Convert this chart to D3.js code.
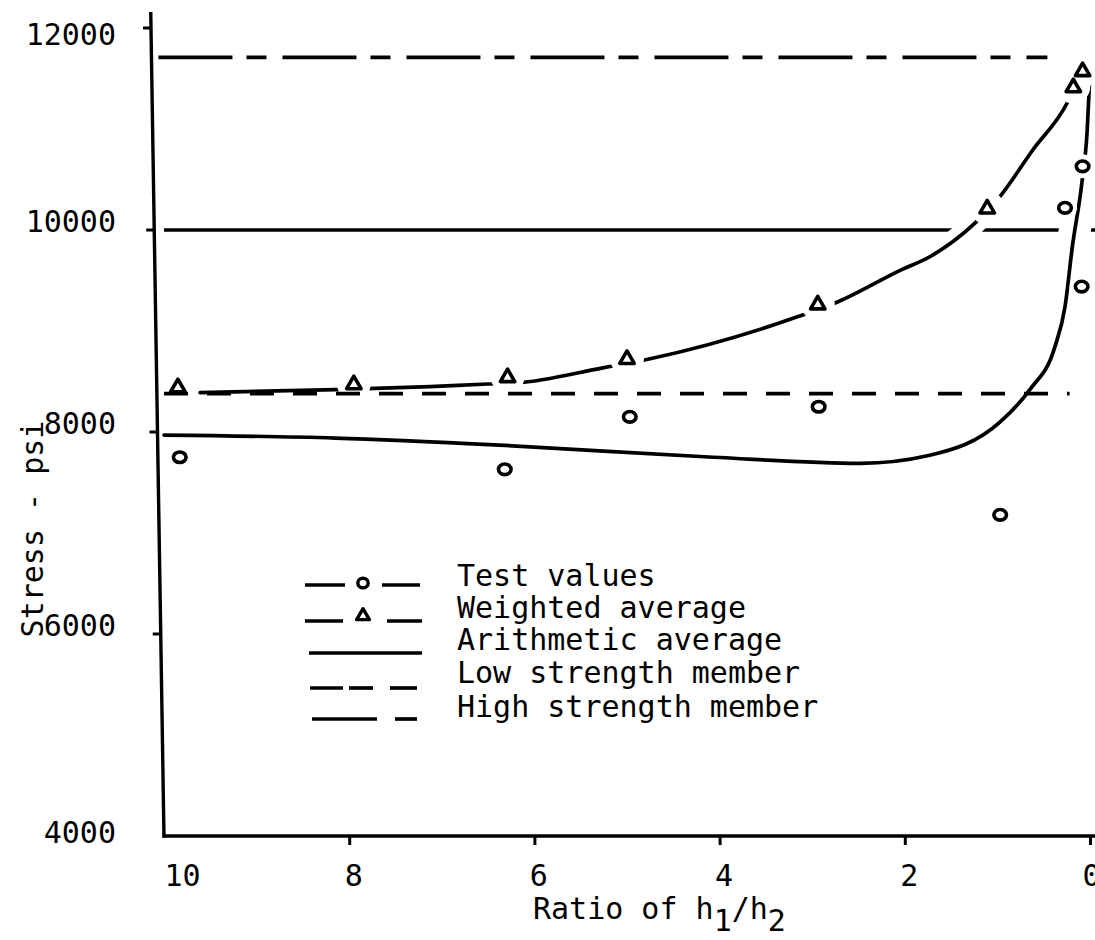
<!DOCTYPE html>
<html><head><meta charset="utf-8">
<script src="https://cdn.jsdelivr.net/npm/d3@7"></script>
<style>
html,body{margin:0;padding:0;background:#fff;}
svg text{font-family:"DejaVu Sans Mono","Liberation Mono",monospace;fill:#000;}
</style></head><body>
<svg id="chart" width="1095" height="940"></svg>
<script>
// ---------------- data ----------------
const xTickValues = [10, 8, 6, 4, 2, 0];
const yTickValues = [4000, 6000, 8000, 10000, 12000];

// Test values (circles)
const testX = [9.83, 6.32, 4.97, 2.93, 0.97, 0.27, 0.08, 0.09];
const testY = [7750, 7630, 8150, 8250, 7180, 10220, 10630, 9440];

// Weighted average (triangles)
const weightedX = [9.85, 7.95, 6.29, 5.0, 2.94, 1.11, 0.18, 0.08];
const weightedY = [8450, 8480, 8550, 8730, 9270, 10220, 11420, 11580];

// Faired curve through the test values
const testCurveX = [10.0, 8.15, 6.37, 4.07, 2.48, 1.73, 0.97, 0.65, 0.38, 0.27, 0.19, 0.09, 0.03, 0.0];
const testCurveY = [7970, 7940, 7870, 7750, 7690, 7770, 8100, 8420, 8840, 9240, 9840, 10450, 10990, 11560];

// Faired curve through the weighted averages
const weightedCurveX = [9.61, 8.15, 7.13, 6.50, 6.19, 5.26, 4.75, 3.16, 2.72, 2.05, 1.73, 1.24, 1.0, 0.62, 0.24, 0.13, 0.08];
const weightedCurveY = [8390, 8420, 8450, 8475, 8485, 8635, 8725, 9140, 9290, 9600, 9735, 10070, 10300, 10790, 11270, 11490, 11580];

// Reference levels
const arithmeticAverage = 10000;
const lowStrength = 8380;
const highStrength = 11710;
const arithmeticEnd = -0.06;
const lowStrengthEnd = 0.22;
const highStrengthEnd = 0.46;

const legendLabels = ["Test values", "Weighted average", "Arithmetic average", "Low strength member", "High strength member"];

// ---------------- drawing ----------------
const svg = d3.select("#chart");
const W = 1095;
const x = d3.scaleLinear().domain([10, 0]).range([164, 1090]);
const y = d3.scaleLinear().domain([4000, 12000]).range([836, 28]);

const SW = 3.7;
const tilt = 13; // hand-drawn vertical axis leans slightly
const axisXAt = v => x(10) - tilt * (y(4000) - y(v)) / (y(4000) - y(12000));

function hline(val, x0, x1, dash) {
  const l = svg.append("line")
    .attr("x1", x(x0)).attr("x2", x(x1))
    .attr("y1", y(val)).attr("y2", y(val))
    .attr("stroke", "#000").attr("stroke-width", SW);
  if (dash) l.attr("stroke-dasharray", dash);
  return l;
}

// 1. arithmetic average line
hline(arithmeticAverage, 10, arithmeticEnd, null);

const line = d3.line().x(d => x(d[0])).y(d => y(d[1])).curve(d3.curveMonotoneX);
const testCurve = testCurveX.map((v, i) => [v, testCurveY[i]]);
const weightedCurve = weightedCurveX.map((v, i) => [v, weightedCurveY[i]]);

// 2. white casings so the curves break the horizontal line where they cross
[[weightedCurve, 22], [testCurve, 32]].forEach(([c, w]) => {
  svg.append("path").attr("d", line(c.filter(d => d[0] < 2.2)))
    .attr("fill", "none").attr("stroke", "#fff").attr("stroke-width", w);
});

// 3. curves
[testCurve, weightedCurve].forEach(c => {
  svg.append("path").attr("d", line(c))
    .attr("fill", "none").attr("stroke", "#000").attr("stroke-width", SW)
    .attr("stroke-linecap", "round");
});

// 4. halos around markers (break the curves)
const testPts = testX.map((v, i) => [v, testY[i]]);
const wPts = weightedX.map((v, i) => [v, weightedY[i]]);
svg.append("g").selectAll("circle").data(wPts).join("circle")
  .attr("cx", d => x(d[0])).attr("cy", d => y(d[1])).attr("r", 17).attr("fill", "#fff");
svg.append("g").selectAll("circle").data(testPts).join("circle")
  .attr("cx", d => x(d[0])).attr("cy", d => y(d[1])).attr("r", 12).attr("fill", "#fff");

// 5. strength member lines
hline(lowStrength, 10, lowStrengthEnd, "24,19");
hline(highStrength, 10.06, highStrengthEnd, "74,14,20,16");

// 6. axes
const xAxis = d3.axisBottom(x).tickValues(xTickValues).tickSize(9).tickSizeOuter(0).tickFormat(d3.format("d"));
const gx = svg.append("g").attr("transform", `translate(0,${y(4000)})`).call(xAxis);
gx.select(".domain").remove();
gx.selectAll(".tick line").attr("stroke", "#000").attr("stroke-width", 3).attr("opacity", d => d === 10 ? 0 : 1);
gx.selectAll(".tick text")
  .attr("y", 50).attr("dy", 0)
  .attr("dx", d => d === 10 ? 0 : (d === 0 ? 1 : 4))
  .attr("text-anchor", d => d === 10 ? "start" : "middle")
  .style("font-size", "30px");
svg.append("line").attr("x1", x(10) - 1.5).attr("x2", W).attr("y1", y(4000)).attr("y2", y(4000))
  .attr("stroke", "#000").attr("stroke-width", 3.4);

const yAxis = d3.axisLeft(y).tickValues(yTickValues).tickSize(8).tickSizeOuter(0).tickFormat(d3.format("d"));
const gy = svg.append("g").call(yAxis);
gy.select(".domain").remove();
gy.selectAll(".tick").attr("transform", d => `translate(${axisXAt(d)},${y(d)})`);
gy.selectAll(".tick line").attr("stroke", "#000").attr("stroke-width", 3).attr("opacity", d => d === 4000 ? 0 : 1);
const labelDy = d => d === 12000 ? 17 : (d === 4000 ? 7 : 2);
gy.selectAll(".tick text")
  .attr("x", d => 116 - axisXAt(d)).attr("dy", labelDy)
  .attr("text-anchor", "end").style("font-size", "30px");
const yTop = y.invert(12);
svg.append("line")
  .attr("x1", axisXAt(4000)).attr("y1", y(4000) + 1.7)
  .attr("x2", axisXAt(yTop)).attr("y2", y(yTop))
  .attr("stroke", "#000").attr("stroke-width", 3.4);

// 7. markers
svg.append("g").selectAll("ellipse").data(testPts).join("ellipse")
  .attr("cx", d => x(d[0])).attr("cy", d => y(d[1])).attr("rx", 6.3).attr("ry", 5.3)
  .attr("fill", "#fff").attr("stroke", "#000").attr("stroke-width", 3.6);
const tri = d3.symbol().type(d3.symbolTriangle).size(90);
svg.append("g").selectAll("path").data(wPts).join("path")
  .attr("d", tri).attr("transform", d => `translate(${x(d[0])},${y(d[1]) + 1})`)
  .attr("fill", "#fff").attr("stroke", "#000").attr("stroke-width", 3.6).attr("stroke-linejoin", "round");

// 8. legend
const legendBase = [586, 618, 650, 683, 717];
const legendSegs = [
  [[305, 345], [382, 420]],
  [[305, 343], [387, 422]],
  [[309, 422]],
  [[310, 343], [349, 373], [390, 417]],
  [[312, 377], [395, 417]]
];
const lineOff = [-1, 3, 3, 5, 2];
const lg = svg.append("g");
legendLabels.forEach((lab, i) => {
  const yy = legendBase[i] + lineOff[i];
  legendSegs[i].forEach(s => {
    lg.append("line").attr("x1", s[0]).attr("x2", s[1]).attr("y1", yy).attr("y2", yy)
      .attr("stroke", "#000").attr("stroke-width", SW);
  });
  lg.append("text").attr("x", 457).attr("y", legendBase[i]).style("font-size", "30px").text(lab);
});
lg.append("ellipse").attr("cx", 363).attr("cy", legendBase[0] - 3).attr("rx", 5.2).attr("ry", 4.8)
  .attr("fill", "#fff").attr("stroke", "#000").attr("stroke-width", 3.4);
lg.append("path").attr("d", d3.symbol().type(d3.symbolTriangle).size(70)())
  .attr("transform", `translate(363,${legendBase[1] - 2})`)
  .attr("fill", "#fff").attr("stroke", "#000").attr("stroke-width", 3.4).attr("stroke-linejoin", "round");

// 9. axis titles
svg.append("text").attr("transform", "translate(43,529) rotate(-90)")
  .attr("text-anchor", "middle").style("font-size", "30px").text("Stress - psi");
const xt = svg.append("text").attr("x", 533).attr("y", 919).style("font-size", "30px");
xt.append("tspan").text("Ratio of h");
xt.append("tspan").attr("dy", 12).text("1");
xt.append("tspan").attr("dy", -12).text("/h");
xt.append("tspan").attr("dy", 12).text("2");
</script>
</body></html>
